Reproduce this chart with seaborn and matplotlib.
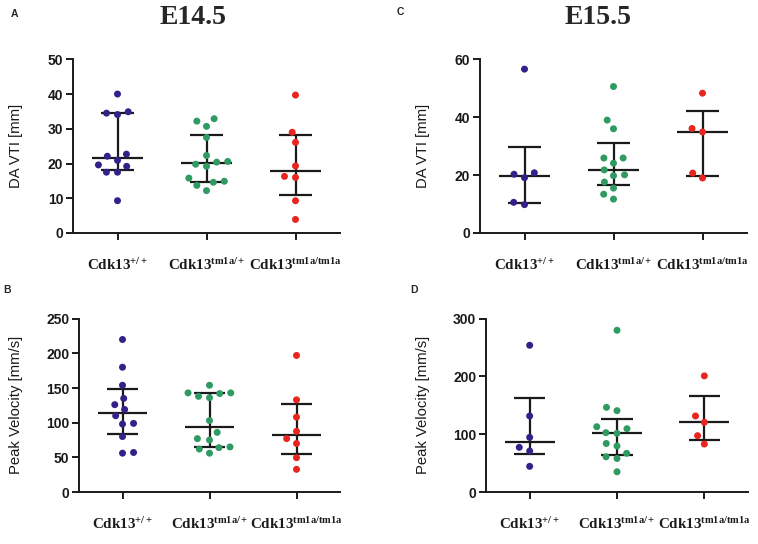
import numpy as np
import pandas as pd
import matplotlib
matplotlib.use("Agg")
import matplotlib.pyplot as plt
from matplotlib.path import Path
import seaborn as sns

# ========== DATA ==========
groups = ["wt", "het", "hom"]
group_labels = [r"$\mathbf{Cdk13^{+/+}}$",
                r"$\mathbf{Cdk13^{tm1a/+}}$",
                r"$\mathbf{Cdk13^{tm1a/tm1a}}$"]
colors = ["#35208a", "#2f9a62", "#e8251e"]

# A: E14.5 DA VTI [mm]
a_wt = [40.0, 34.5, 34.1, 34.9, 22.7, 20.9, 22.1, 19.6, 19.2, 17.5, 17.5, 9.3]
a_het = [32.2, 32.9, 30.7, 27.5, 22.3, 20.4, 20.6, 19.2, 19.8, 15.8, 14.6, 14.9, 12.2, 13.7]
a_hom = [39.7, 29.0, 26.1, 19.3, 16.0, 16.3, 9.3, 3.9]
a_med = [21.5, 20.1, 17.8]
a_q1 = [18.0, 14.8, 10.9]
a_q3 = [34.5, 28.3, 28.3]

# C: E15.5 DA VTI [mm]
c_wt = [56.6, 20.3, 20.8, 19.1, 9.8, 10.6]
c_het = [50.6, 39.0, 36.0, 25.9, 25.9, 24.1, 21.8, 19.8, 20.1, 17.6, 15.5, 13.4, 11.7]
c_hom = [48.3, 36.1, 34.9, 20.7, 19.0]
c_med = [19.8, 21.8, 34.9]
c_q1 = [10.3, 16.7, 19.8]
c_q3 = [29.8, 31.0, 42.2]

# B: E14.5 Peak Velocity [mm/s]
b_wt = [220, 180, 154, 135, 126, 119, 110, 98, 99, 80, 56, 57]
b_het = [154, 143, 138, 136, 142, 143, 103, 86, 77, 75, 64, 65, 56, 62]
b_hom = [197, 133, 108, 87.5, 77, 70, 49.5, 32.7]
b_med = [113.5, 94, 82]
b_q1 = [83.7, 65, 55]
b_q3 = [149, 143, 127]

# D: E15.5 Peak Velocity [mm/s]
d_wt = [254, 131.6, 94.6, 77.3, 71, 44.4]
d_het = [280, 146.6, 140.8, 113, 109.6, 102.7, 101.6, 79.6, 84, 67, 61, 58, 35]
d_hom = [201, 131.6, 120.6, 97.5, 83]
d_med = [86, 101.6, 121]
d_q1 = [65, 63.5, 90]
d_q3 = [162.7, 127, 167]

def make_df(wt, het, hom):
    return pd.DataFrame({
        "group": ["wt"] * len(wt) + ["het"] * len(het) + ["hom"] * len(hom),
        "value": list(wt) + list(het) + list(hom),
    })

panels = [
    # letter, rect (px), data, med, q1, q3, ylabel, ymax, ystep
    ("A", [73, 59.3, 267, 173.7], make_df(a_wt, a_het, a_hom), a_med, a_q1, a_q3, "DA VTI [mm]", 50, 10),
    ("C", [480, 59.3, 267, 173.7], make_df(c_wt, c_het, c_hom), c_med, c_q1, c_q3, "DA VTI [mm]", 60, 20),
    ("B", [79, 318.7, 261, 173.3], make_df(b_wt, b_het, b_hom), b_med, b_q1, b_q3, "Peak Velocity [mm/s]", 250, 50),
    ("D", [486, 318.7, 262, 173.3], make_df(d_wt, d_het, d_hom), d_med, d_q1, d_q3, "Peak Velocity [mm/s]", 300, 100),
]

# ========== STYLE ==========
sns.set_style("ticks")
plt.rcParams["font.family"] = ["Liberation Sans", "DejaVu Sans"]
plt.rcParams["mathtext.fontset"] = "custom"
plt.rcParams["mathtext.rm"] = "Liberation Serif"
plt.rcParams["mathtext.bf"] = "Liberation Serif:bold"
plt.rcParams["mathtext.it"] = "Liberation Serif:italic"

# dot marker smaller than its swarm footprint -> wider spread like GraphPad
dot = Path.make_compound_path(
    Path([(-1, -1), (1, 1)], [Path.MOVETO, Path.MOVETO]),
    Path.circle((0, 0), 0.66),
)

W, H = 758, 544
fig = plt.figure(figsize=(W / 100, H / 100), dpi=100)

for letter, (x0, y0, w, h), df, med, q1, q3, ylabel, ymax, ystep in panels:
    ax = fig.add_axes([x0 / W, 1 - (y0 + h) / H, w / W, h / H])
    pos = np.arange(len(groups))

    # median + interquartile range
    ax.hlines(med, pos - 0.285, pos + 0.285, color="#1a1a1a", lw=1.6, zorder=1)
    ax.hlines(q1, pos - 0.18, pos + 0.18, color="#1a1a1a", lw=1.6, zorder=1)
    ax.hlines(q3, pos - 0.18, pos + 0.18, color="#1a1a1a", lw=1.6, zorder=1)
    ax.vlines(pos, q1, q3, color="#1a1a1a", lw=1.6, zorder=1)

    sns.swarmplot(data=df, x="group", y="value", hue="group", order=groups,
                  hue_order=groups, palette=colors, size=7.6, linewidth=0,
                  marker=dot, legend=False, ax=ax, zorder=3)

    ax.set_xlim(-0.5, 2.5)
    ax.set_ylim(0, ymax)
    ax.set_yticks(np.arange(0, ymax + 1, ystep))
    ax.set_xticks(pos)
    ax.set_xticklabels(group_labels, fontsize=10.8)
    ax.set_xlabel("")
    ax.set_ylabel(ylabel, fontsize=10.7, color="#1a1a1a")
    for t in ax.get_yticklabels():
        t.set_fontweight("bold")
        t.set_fontsize(10)
    ax.tick_params(axis="x", length=5, width=1.4, pad=12, colors="#1a1a1a")
    ax.tick_params(axis="y", length=5, width=1.4, pad=2, colors="#1a1a1a")
    for s in ["left", "bottom"]:
        ax.spines[s].set_linewidth(1.4)
        ax.spines[s].set_color("#1a1a1a")
    sns.despine(ax=ax)

    # y-label position in pixels
    lab_x = 23 if x0 < 300 else 430
    ax.yaxis.set_label_coords((lab_x - x0) / w, 0.5)

# panel letters
fig.text(14 / W, 1 - 14 / H, "A", fontsize=7.5, fontweight="bold", ha="center", va="center")
fig.text(400 / W, 1 - 12 / H, "C", fontsize=7.5, fontweight="bold", ha="center", va="center")
fig.text(7 / W, 1 - 290 / H, "B", fontsize=7.5, fontweight="bold", ha="center", va="center")
fig.text(414 / W, 1 - 290 / H, "D", fontsize=7.5, fontweight="bold", ha="center", va="center")

# stage titles
fig.text(193 / W, 1 - 17 / H, "E14.5", fontsize=20, fontweight="bold",
         family="Liberation Serif", ha="center", va="center")
fig.text(598 / W, 1 - 17 / H, "E15.5", fontsize=20, fontweight="bold",
         family="Liberation Serif", ha="center", va="center")

fig.savefig("out.png", dpi=100)
